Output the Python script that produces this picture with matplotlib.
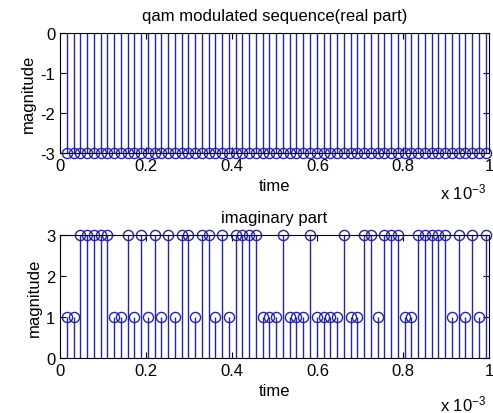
import matplotlib
matplotlib.use('Agg')
import matplotlib.pyplot as plt
import numpy as np

plt.rcParams['font.family'] = ['Liberation Sans', 'DejaVu Sans']
plt.rcParams['mathtext.default'] = 'regular'
plt.rcParams['axes.unicode_minus'] = False
plt.rcParams['font.size'] = 12

# sample instants (seconds) and the two parts of the qam sequence
t = np.arange(1, 64) * 1.575e-5
real_part = [-3] * 63
imag_part = [1, 1, 3, 3, 3, 3, 3, 1, 1, 3, 1, 3, 1, 3, 1, 3, 1, 3, 3, 1,
             3, 3, 1, 3, 1, 3, 3, 3, 3, 1, 1, 1, 3, 1, 1, 1, 3, 1, 1, 1,
             1, 3, 1, 1, 3, 3, 1, 3, 3, 3, 1, 1, 3, 3, 3, 3, 3, 1, 3, 1,
             3, 1, 3]

xticks = [0, 0.2, 0.4, 0.6, 0.8, 1]
xticklabels = ['0', '0.2', '0.4', '0.6', '0.8', '1']
blue = '#26269a'

fig = plt.figure(figsize=(4.93, 4.14), dpi=100)
ax1 = fig.add_axes([60 / 493, 1 - 154 / 414, 429 / 493, 120 / 414])
ax2 = fig.add_axes([60 / 493, 1 - 359 / 414, 429 / 493, 123 / 414])


def stem_panel(ax, vals, ylim, yticks, title):
    ml, sl, bl = ax.stem(t * 1e3, vals, linefmt='-', markerfmt='o', basefmt='k-')
    sl.set_color(blue)
    sl.set_linewidth(1.0)
    ml.set_markerfacecolor('none')
    ml.set_markeredgecolor(blue)
    ml.set_markeredgewidth(1.0)
    ml.set_markersize(7.3)
    ml.set_clip_on(False)
    bl.set_visible(False)
    ax.set_xlim(0, 1)
    ax.set_ylim(*ylim)
    ax.set_yticks(yticks)
    ax.set_xticks(xticks)
    ax.set_xticklabels(xticklabels)
    ax.tick_params(direction='in', top=True, right=True, length=4, width=0.8)
    for s in ax.spines.values():
        s.set_linewidth(0.8)
    ax.set_title(title, fontsize=12, pad=9)
    ax.set_xlabel('time', labelpad=4)
    ax.set_ylabel('magnitude', labelpad=3)


stem_panel(ax1, real_part, (-3, 0), [0, -1, -2, -3], 'qam modulated sequence(real part)')
stem_panel(ax2, imag_part, (0, 3), [0, 1, 2, 3], 'imaginary part')

fig.text(440 / 493, 1 - 199 / 414, r'x 10$^{-3}$', fontsize=12)
fig.text(440 / 493, 1 - 411 / 414, r'x 10$^{-3}$', fontsize=12)

fig.savefig('out.png', dpi=100)
